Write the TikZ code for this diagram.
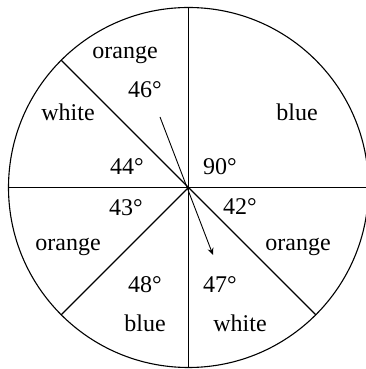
\documentclass[tikz,border=0pt]{standalone}
\usepackage{fontspec}
\setmainfont{Liberation Serif}
\usetikzlibrary{arrows.meta}
\begin{document}
\begin{tikzpicture}[x=1pt,y=1pt,
  edge/.style={line width=1.1pt,black},
  lbl/.style={font=\fontsize{24}{28}\selectfont,inner sep=0pt,anchor=center}]
\useasboundingbox (0,0) rectangle (365,369);
\coordinate (O) at (188.5,181.5);
\draw[edge] (O) circle (180);
\path (O) ++(0:180) coordinate (pE);
\path (O) ++(90:180) coordinate (pN);
\path (O) ++(180:180) coordinate (pW);
\path (O) ++(270:180) coordinate (pS);
\path (O) ++(135:180) coordinate (pNW);
\path (O) ++(225:180) coordinate (pSW);
\path (O) ++(315:180) coordinate (pSE);
\draw[edge] (pW) -- (pE);
\draw[edge] (pN) -- (pS);
\draw[edge] (O) -- (pNW);
\draw[edge] (O) -- (pSW);
\draw[edge] (O) -- (pSE);
\coordinate (s1) at (160,252);
\coordinate (s2) at (213,114);
\draw[line width=0.9pt,-{Stealth[length=7pt,width=6pt]}] (s1) -- (s2);
\node[lbl] (t1) at (125,314) {orange};
\node[lbl] (t2) at (145,279) {46°};
\node[lbl] (t3) at (68,257) {white};
\node[lbl] (t4) at (297,257) {blue};
\node[lbl] (t5) at (127,202) {44°};
\node[lbl] (t6) at (220,202) {90°};
\node[lbl] (t7) at (126,161) {43°};
\node[lbl] (t8) at (240,162) {42°};
\node[lbl] (t9) at (68,122) {orange};
\node[lbl] (t10) at (298,122) {orange};
\node[lbl] (t11) at (145,84) {48°};
\node[lbl] (t12) at (220,84) {47°};
\node[lbl] (t13) at (145,46) {blue};
\node[lbl] (t14) at (240,46) {white};
\end{tikzpicture}
\end{document}
